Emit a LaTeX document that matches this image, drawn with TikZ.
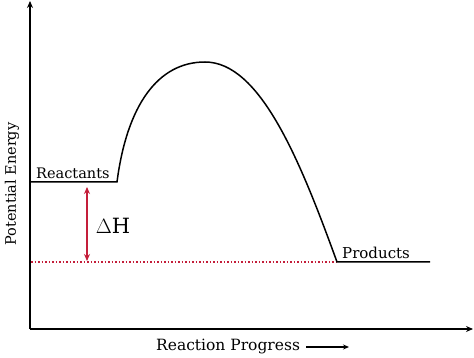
\documentclass[tikz,border=0pt]{standalone}
\usepackage{fontspec}
\setmainfont{DejaVu Serif}
\usetikzlibrary{arrows.meta}
\definecolor{dhred}{RGB}{196,30,58}
\tikzset{
  axis/.style={line width=1.5pt,-{Stealth[length=7pt,width=6pt]}},
  lvl/.style={line width=1.5pt},
  lbl/.style={font=\fontsize{14.5}{16}\selectfont, inner sep=1pt},
}
\begin{document}
\begin{tikzpicture}[x=1pt,y=-1pt]
\useasboundingbox (0,0) rectangle (474,358);
\coordinate (O) at (30,329);
\coordinate (ytop) at (30,1);
\coordinate (xend) at (473,329);
\draw[axis] (O) -- (ytop);
\draw[axis] (O) -- (xend);
\coordinate (r0) at (31,182);
\coordinate (r1) at (117,182);
\coordinate (peak) at (205,62);
\coordinate (p0) at (337,262);
\coordinate (p1) at (430,262);
\coordinate (d0) at (31,262);
\draw[dhred, line width=1.2pt, dash pattern=on 1.5pt off 2pt] (d0) -- (p0);
\draw[lvl] (r0) -- (r1) .. controls (127,105) and (158,62) .. (peak)
  .. controls (260,62) and (300,160) .. (p0) -- (p1);
\coordinate (a0) at (87,187);
\coordinate (a1) at (87,261);
\draw[dhred, line width=1.2pt, {Stealth[length=7pt,width=6pt]}-{Stealth[length=7pt,width=6pt]}] (a0) -- (a1);
\node[lbl, anchor=south west] (react) at (35,180) {Reactants};
\node[lbl, font=\fontsize{15}{16}\selectfont, anchor=south west] (prod) at (341,260) {Products};
\node[font=\fontsize{21}{24}\selectfont, inner sep=0pt] (dh) at (113,226) {$\Delta$H};
\node[lbl, font=\fontsize{14.5}{16}\selectfont, rotate=90] (pe) at (12,184) {Potential Energy};
\node[lbl, font=\fontsize{15.5}{18}\selectfont, anchor=west] (rp) at (155,347) {Reaction Progress};
\coordinate (rpa) at (349,347);
\draw[line width=1.2pt,-{Stealth[length=6pt,width=5pt]}] ([xshift=5pt]rp.east) -- (rpa);
\end{tikzpicture}
\end{document}
